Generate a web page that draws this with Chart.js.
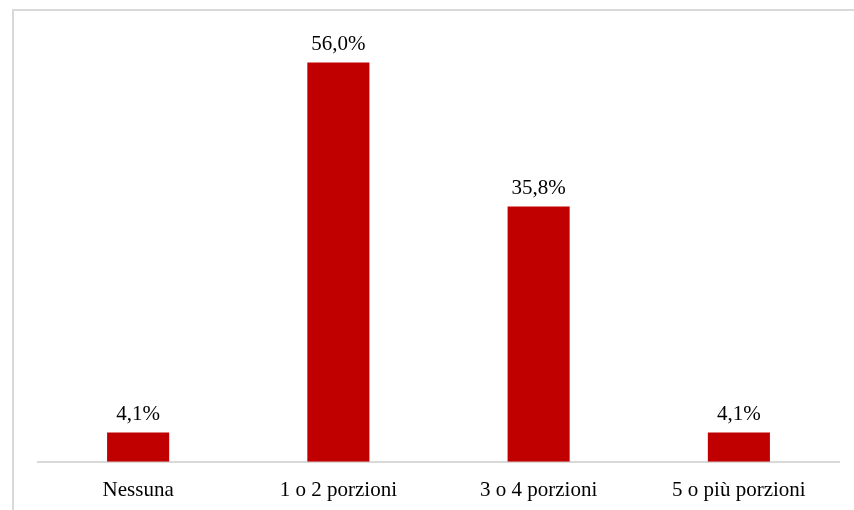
<!DOCTYPE html>
<html>
<head>
<meta charset="utf-8">
<script src="https://cdn.jsdelivr.net/npm/chart.js@4/dist/chart.umd.min.js"></script>
<style>
  html, body { margin: 0; padding: 0; background: #fff; }
  #wrap { width: 854px; height: 510px; position: relative; overflow: hidden; }
</style>
</head>
<body>
<div id="wrap"><canvas id="chart" width="854" height="544"></canvas></div>
<script>
const categories = ['Nessuna', '1 o 2 porzioni', '3 o 4 porzioni', '5 o più porzioni'];
const values = [4.1, 56.0, 35.8, 4.1];

const serif = '"Liberation Serif", "Times New Roman", serif';

// frame around the chart and value labels above bars
const extras = {
    id: 'extras',
    beforeDraw(chart) {
        const c = chart.ctx;
        c.save();
        c.strokeStyle = '#d9d9d9';
        c.lineWidth = 2;
        c.strokeRect(13, 10, 900, 600);
        c.restore();
    },
    afterDatasetsDraw(chart) {
        const c = chart.ctx;
        const meta = chart.getDatasetMeta(0);
        c.save();
        c.font = '21px ' + serif;
        c.fillStyle = '#000';
        c.textAlign = 'center';
        c.textBaseline = 'alphabetic';
        meta.data.forEach(function (bar, i) {
            c.fillText(values[i].toFixed(1).replace('.', ',') + '%', bar.x, bar.y - 13);
        });
        c.restore();
    }
};

new Chart(document.getElementById('chart').getContext('2d'), {
    type: 'bar',
    data: {
        labels: categories,
        datasets: [{
            data: values,
            backgroundColor: '#c00000',
            barPercentage: 0.62,
            categoryPercentage: 0.5
        }]
    },
    options: {
        responsive: false,
        animation: false,
        layout: { padding: { left: 38, right: 15, top: 34, bottom: 25 } },
        plugins: {
            legend: { display: false },
            tooltip: { enabled: false }
        },
        scales: {
            x: {
                grid: { display: false, drawTicks: false },
                border: { color: '#d9d9d9', width: 2 },
                ticks: {
                    color: '#000',
                    padding: 16,
                    font: { family: serif, size: 21 }
                }
            },
            y: {
                display: false,
                min: 0,
                max: 60
            }
        }
    },
    plugins: [extras]
});
</script>
</body>
</html>
